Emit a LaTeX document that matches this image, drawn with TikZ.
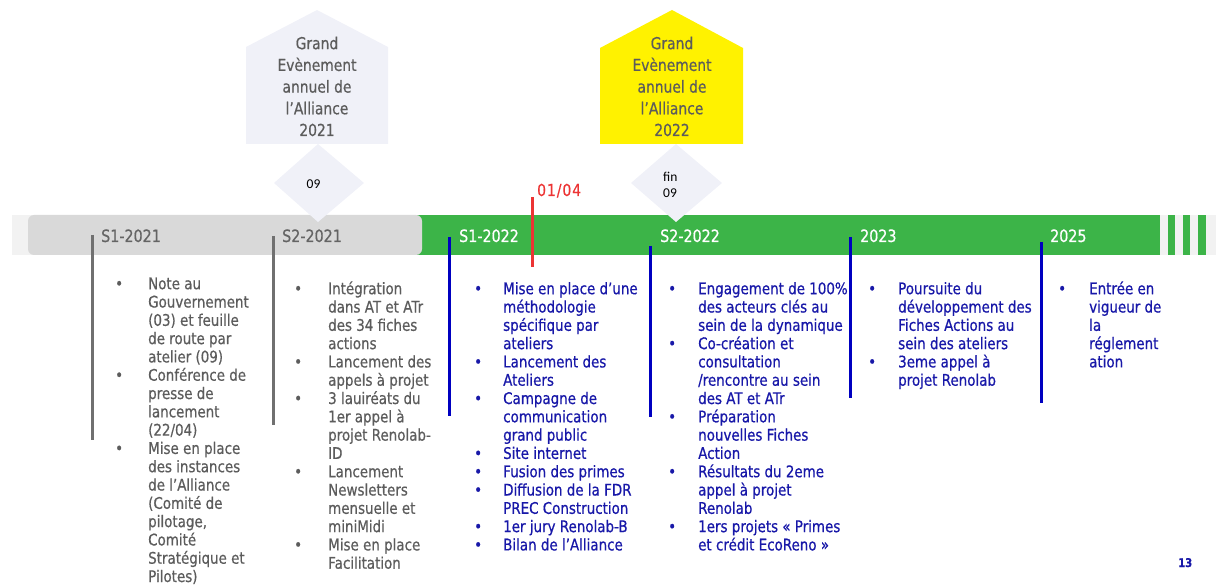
\documentclass[tikz,border=0pt]{standalone}
\usepackage{fontspec}
\setmainfont{DejaVu Sans}[FakeStretch=0.84,FakeBold=0.6]
\newfontfamily\calfont{Carlito}
\definecolor{paleblue}{RGB}{240,241,248}
\definecolor{barpale}{RGB}{242,242,242}
\definecolor{bargray}{RGB}{217,217,217}
\definecolor{bargreen}{RGB}{60,180,72}
\definecolor{txtgray}{RGB}{92,92,92}
\definecolor{labgray}{RGB}{100,100,100}
\definecolor{txtblue}{RGB}{24,24,168}
\definecolor{lineblue}{RGB}{0,0,192}
\definecolor{linegray}{RGB}{112,112,112}
\definecolor{datered}{RGB}{236,52,52}
\newcommand{\blist}[2]{\begin{tabular}{@{}p{#1}@{}l@{}}#2\end{tabular}}
\begin{document}
\begin{tikzpicture}[x=1pt,y=-1pt]
        \tikzstyle{house}=[fill=paleblue]
        \tikzstyle{housetext}=[inner sep=0pt,anchor=north,text=txtgray,font=\fontsize{16.5}{21.7}\selectfont]
        \tikzstyle{barlabel}=[inner sep=0pt,anchor=base west,font=\fontsize{17}{20}\selectfont]
        \tikzstyle{column}=[inner sep=0pt,anchor=north west,font=\fontsize{16}{18.3}\selectfont]
        \tikzstyle{tick}=[line width=3pt]
        \tikzstyle{dtext}=[inner sep=0pt,font=\calfont\fontsize{13.5}{16.5}\selectfont]
        \useasboundingbox (0,0) rectangle (1216,585);
        % timeline bar
        \fill[barpale] (12,215) rectangle (1216,255);
        \fill[bargreen] (415,215) rectangle (1160,255);
        \fill[bargray,rounded corners=6pt] (28,215) rectangle (422,255);
        \fill[bargreen] (1168,215) rectangle (1175,255);
        \fill[bargreen] (1183,215) rectangle (1190,255);
        \fill[bargreen] (1198,215) rectangle (1206,255);
        % events
        \fill[house] (246,144) -- (246,47) -- (317,10) -- (388,47) -- (388,144) -- cycle;
        \fill[house] (274,183) -- (318,144) -- (364,183) -- (318,222) -- cycle;
        \fill[yellow] (600,144) -- (600,48) -- (672,10) -- (743,48) -- (743,144) -- cycle;
        \fill[house] (631,183) -- (676,144) -- (722,183) -- (676,222) -- cycle;
        \node [housetext] (ev2021) at (317,33.8) {\begin{tabular}{@{}c@{}}Grand\\Evènement\\annuel de\\l’Alliance\\2021\end{tabular}};
        \node [housetext] (ev2022) at (672,33.8) {\begin{tabular}{@{}c@{}}Grand\\Evènement\\annuel de\\l’Alliance\\2022\end{tabular}};
        \node [dtext,anchor=base] (d2021) at (313.5,188.3) {09};
        \node [dtext,anchor=north west] (d2022) at (663,169.5) {\begin{tabular}{@{}l@{}}fin\\09\end{tabular}};
        % ticks
        \draw[tick,linegray] (92,235) -- (92,440);
        \draw[tick,linegray] (273,236) -- (273,425);
        \draw[tick,lineblue] (449,237) -- (449,416);
        \draw[tick,lineblue] (650,246) -- (650,417);
        \draw[tick,lineblue] (850,237) -- (850,398);
        \draw[tick,lineblue] (1041,242) -- (1041,403);
        \draw[tick,datered] (532,197) -- (532,267);
        \node [barlabel,text=datered,font=\fontsize{16.5}{20}\selectfont\addfontfeature{LetterSpace=6}] (d0104) at (537,196) {01/04};
        % period labels
        \node [barlabel,text=labgray] (s12021) at (101,242) {S1-2021};
        \node [barlabel,text=labgray] (s22021) at (282,242) {S2-2021};
        \node [barlabel,text=white] (s12022) at (459,242) {S1-2022};
        \node [barlabel,text=white] (s22022) at (660,242) {S2-2022};
        \node [barlabel,text=white] (y2023) at (860,242) {2023};
        \node [barlabel,text=white] (y2025) at (1050,242) {2025};
        % actions
        \node [column,text=txtgray] (c1) at (115,276.2) {\blist{33pt}{%
\textbullet & Note au\\
 & Gouvernement\\
 & (03) et feuille\\
 & de route par\\
 & atelier (09)\\
\textbullet & Conférence de\\
 & presse de\\
 & lancement\\
 & (22/04)\\
\textbullet & Mise en place\\
 & des instances\\
 & de l’Alliance\\
 & (Comité de\\
 & pilotage,\\
 & Comité\\
 & Stratégique et\\
 & Pilotes)}};
        \node [column,text=txtgray] (c2) at (294,281.2) {\blist{34pt}{%
\textbullet & Intégration\\
 & dans AT et ATr\\
 & des 34 fiches\\
 & actions\\
\textbullet & Lancement des\\
 & appels à projet\\
\textbullet & 3 lauiréats du\\
 & 1er appel à\\
 & projet Renolab-\\
 & ID\\
\textbullet & Lancement\\
 & Newsletters\\
 & mensuelle et\\
 & miniMidi\\
\textbullet & Mise en place\\
 & Facilitation}};
        \node [column,text=txtblue] (c3) at (474,281.2) {\blist{29pt}{%
\textbullet & Mise en place d’une\\
 & méthodologie\\
 & spécifique par\\
 & ateliers\\
\textbullet & Lancement des\\
 & Ateliers\\
\textbullet & Campagne de\\
 & communication\\
 & grand public\\
\textbullet & Site internet\\
\textbullet & Fusion des primes\\
\textbullet & Diffusion de la FDR\\
 & PREC Construction\\
\textbullet & 1er jury Renolab-B\\
\textbullet & Bilan de l’Alliance}};
        \node [column,text=txtblue] (c4) at (668,281.2) {\blist{30pt}{%
\textbullet & Engagement de 100\%\\
 & des acteurs clés au\\
 & sein de la dynamique\\
\textbullet & Co-création et\\
 & consultation\\
 & /rencontre au sein\\
 & des AT et ATr\\
\textbullet & Préparation\\
 & nouvelles Fiches\\
 & Action\\
\textbullet & Résultats du 2eme\\
 & appel à projet\\
 & Renolab\\
\textbullet & 1ers projets « Primes\\
 & et crédit EcoReno »}};
        \node [column,text=txtblue] (c5) at (868,281.2) {\blist{30pt}{%
\textbullet & Poursuite du\\
 & développement des\\
 & Fiches Actions au\\
 & sein des ateliers\\
\textbullet & 3eme appel à\\
 & projet Renolab}};
        \node [column,text=txtblue] (c6) at (1058,281.2) {\blist{31pt}{%
\textbullet & Entrée en\\
 & vigueur de\\
 & la\\
 & réglement\\
 & ation}};
        \node [inner sep=0pt,anchor=base west,text=txtblue,font=\bfseries\fontsize{12}{14}\selectfont] (page) at (1178,567) {13};
\end{tikzpicture}
\end{document}
